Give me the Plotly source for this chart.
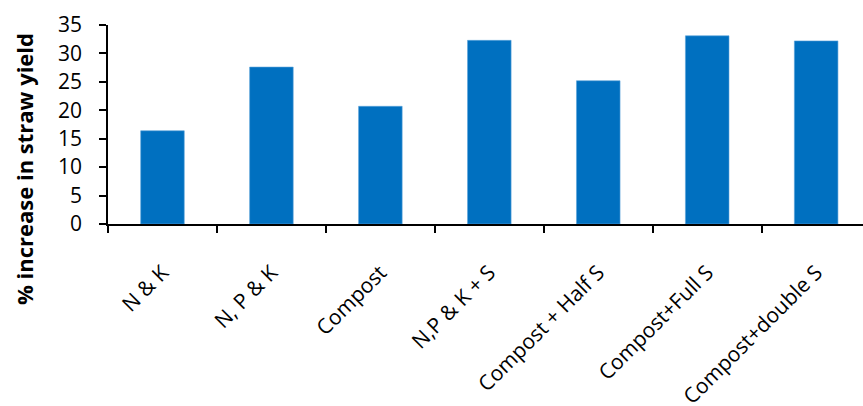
import plotly.graph_objects as go

# Treatments and their increase in straw yield (%)
treatments = [
    "N & K",
    "N, P & K",
    "Compost",
    "N,P & K + S",
    "Compost + Half S",
    "Compost+Full S",
    "Compost+double S",
]
straw_increase = [16.4, 27.6, 20.7, 32.3, 25.2, 33.1, 32.2]
y_ticks = [0, 5, 10, 15, 20, 25, 30, 35]

FONT = "'Open Sans', sans-serif"
BAR_BLUE = "#0070C0"

fig = go.Figure(
    go.Bar(
        x=treatments,
        y=straw_increase,
        width=0.4,
        marker=dict(color=BAR_BLUE, line=dict(color="#5BA3DA", width=0.6)),
        hoverinfo="x+y",
    )
)

fig.update_layout(
    width=863,
    height=406,
    margin=dict(l=108, r=0, t=25, b=182),
    paper_bgcolor="white",
    plot_bgcolor="white",
    showlegend=False,
    font=dict(family=FONT, color="black"),
    xaxis=dict(
        type="category",
        range=[-0.5, 6.43],
        automargin=False,
        tickson="boundaries",
        ticks="outside",
        ticklen=7,
        tickwidth=1.5,
        tickcolor="black",
        showline=True,
        linecolor="black",
        linewidth=2,
        tickangle=-45,
        ticklabelstandoff=26,
        tickfont=dict(family=FONT, size=21, color="black"),
        showgrid=False,
        zeroline=False,
    ),
    yaxis=dict(
        range=[0, 35],
        automargin=False,
        tickvals=y_ticks,
        ticks="outside",
        ticklen=7,
        tickwidth=1.5,
        tickcolor="black",
        showline=True,
        linecolor="black",
        linewidth=1.5,
        ticklabelstandoff=13,
        tickfont=dict(family=FONT, size=21, color="black"),
        showgrid=False,
        zeroline=False,
    ),
    annotations=[
        dict(
            text="<b>% increase in straw yield</b>",
            xref="paper",
            yref="paper",
            x=(24 - 108) / 755,
            y=(224 - 169) / 199,
            xanchor="center",
            yanchor="middle",
            textangle=-90,
            showarrow=False,
            font=dict(family=FONT, size=22, color="black"),
        )
    ],
)

fig.write_html("out.html")
